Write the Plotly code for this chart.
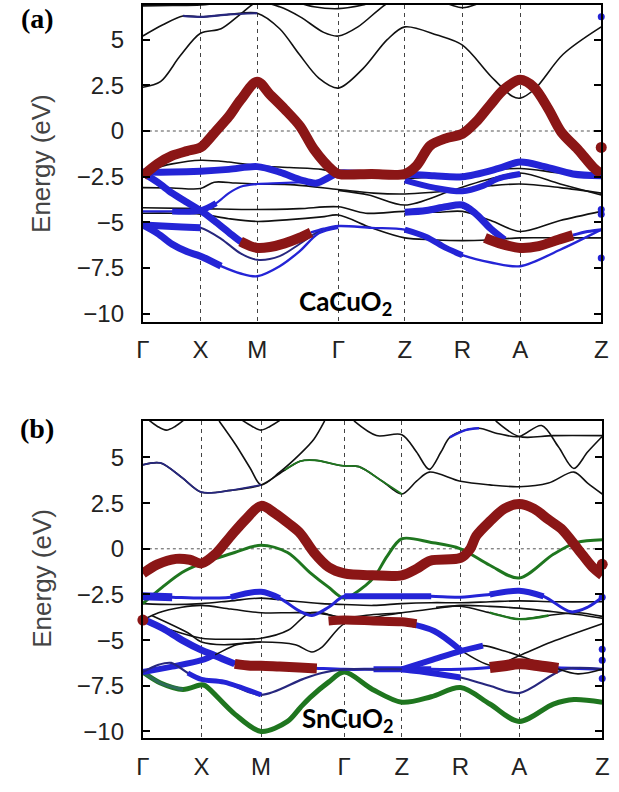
import plotly.graph_objects as go

# ---------------- high-symmetry path ----------------
SYM_LABELS = ["Γ", "X", "M", "Γ", "Z", "R", "A", "Z"]
A_SYM_K = [0, 59, 117, 200, 268, 327, 386, 469]
B_SYM_K = [0, 60, 121, 206, 265, 325, 385, 470]
Y_TICKS = [-10, -7.5, -5, -2.5, 0, 2.5, 5]

# ---------------- panel (a) CaCuO2 : plain bands ----------------
a_top_k = [0, 30, 59, 90, 117, 150, 175, 200, 225, 250, 268, 300, 327, 350, 386, 430, 469]
a_top_e = [6.85, 6.87, 6.9, 7.1, 7.4, 7.15, 6.8, 6.7, 6.9, 7.3, 7.6, 7.2, 6.75, 7.1, 7.6, 7.6, 7.6]
a_up2_k = [0, 20, 41, 59, 88, 117, 140, 160, 180, 200, 225, 250, 268, 301, 327, 356, 378, 386, 401, 430, 469]
a_up2_e = [5.2, 5.8, 6.3, 6.25, 6.38, 6.45, 5.6, 4.2, 2.9, 2.35, 3.4, 5.0, 5.7, 5.25, 4.7, 3.0, 1.9, 1.8, 2.3, 4.2, 5.7]
a_up3_k = [0, 18, 38, 59, 80, 100, 117, 140, 161, 185, 200, 220, 245, 268]
a_up3_e = [2.4, 2.7, 4.1, 5.35, 5.6, 6.4, 7.05, 6.8, 6.25, 5.4, 5.2, 5.7, 6.8, 7.6]
a_k1_k = [0, 30, 59, 88, 117, 150, 183, 200, 234, 268, 297, 327, 356, 386, 427, 469]
a_k1_e = [-2.2, -1.8, -1.6, -1.7, -1.9, -2.0, -2.1, -2.3, -2.45, -2.6, -2.5, -2.4, -2.15, -2.05, -2.3, -2.5]
a_k2_k = [0, 30, 59, 73, 95, 117, 155, 200, 236, 268, 297, 327, 356, 386, 427, 469]
a_k2_e = [-3.1, -3.12, -3.15, -2.8, -2.85, -2.9, -2.95, -3.2, -3.4, -3.45, -3.35, -3.2, -3.0, -2.9, -3.1, -3.4]
a_k3_k = [0, 59, 117, 160, 200, 228, 268, 300, 327, 356, 386, 427, 469]
a_k3_e = [-4.2, -4.25, -4.3, -4.25, -4.15, -4.5, -4.4, -4.45, -4.4, -4.9, -5.5, -4.9, -4.4]
a_k4_k = [0, 30, 59, 88, 117, 150, 183, 200, 234, 268, 297, 327, 356, 386, 427, 469]
a_k4_e = [-4.5, -4.5, -4.55, -4.8, -4.95, -4.85, -4.7, -4.6, -5.3, -5.85, -5.95, -6.0, -5.95, -5.85, -5.85, -5.85]
a_k6_k = [200, 231, 268, 314, 350, 386, 427, 469]
a_k6_e = [-3.25, -3.5, -4.05, -3.3, -2.7, -2.3, -2.9, -3.5]

# ---------------- panel (a) projected (fat) bands ----------------
a_red_k = [0, 15, 30, 45, 59, 66, 74, 88, 100, 117, 130, 145, 161, 175, 194, 200, 234, 268, 280, 294,
           310, 327, 341, 355, 370, 386, 400, 415, 428, 445, 461, 469]
a_red_e = [-2.45, -1.8, -1.35, -1.1, -0.9, -0.55, -0.05, 0.8, 1.7, 2.7, 2.0, 1.2, 0.25, -1.0, -2.15, -2.35,
           -2.35, -2.35, -1.9, -0.8, -0.4, -0.15, 0.5, 1.4, 2.3, 2.8, 2.4, 1.2, -0.05, -1.0, -2.0, -2.35]
a_red2_k = [100, 110, 117, 130, 145, 160, 172]
a_red2_e = [-6.05, -6.3, -6.4, -6.35, -6.15, -5.85, -5.55]
a_red3_k = [350, 365, 386, 405, 425, 440]
a_red3_e = [-5.85, -6.15, -6.4, -6.3, -5.95, -5.7]
a_bl1_k = [0, 30, 59, 88, 117, 140, 163, 178, 190, 200, 231, 268, 298, 327, 364, 386, 411, 440, 469]
a_bl1_e = [-2.25, -2.25, -2.2, -2.1, -1.95, -2.25, -2.7, -2.85, -2.55, -2.3, -2.35, -2.35, -2.45, -2.5,
           -2.05, -1.7, -1.95, -2.35, -2.45]
a_bl2_k = [0, 15, 30, 45, 59, 75, 88, 100, 110]
a_bl2_e = [-2.3, -2.8, -3.4, -3.9, -4.35, -5.0, -5.55, -6.05, -6.3]
a_bl3_k = [0, 30, 59, 75, 88, 100, 117, 140, 165]
a_bl3_e = [-4.4, -4.4, -4.35, -3.95, -3.4, -3.05, -2.9, -2.85, -2.8]
a_bl4_k = [0, 20, 40, 59, 80, 100, 117, 140, 160, 180, 200]
a_bl4_e = [-5.15, -5.2, -5.25, -5.3, -5.9, -6.7, -7.05, -6.85, -6.2, -5.5, -5.2]
a_bl5_k = [0, 15, 30, 45, 59, 80, 100, 117, 140, 160, 180, 200]
a_bl5_e = [-5.15, -5.6, -6.2, -6.6, -6.85, -7.4, -7.8, -7.95, -7.4, -6.6, -5.6, -5.3]
a_bl6_k = [172, 185, 200, 234, 268, 290, 310, 327, 356, 386, 427, 469]
a_bl6_e = [-5.55, -5.35, -5.2, -5.3, -5.4, -5.8, -6.4, -6.8, -7.2, -7.4, -6.5, -5.4]
a_bl7_k = [268, 290, 310, 327, 340, 356, 370]
a_bl7_e = [-4.45, -4.35, -4.15, -4.05, -4.5, -5.35, -5.95]
a_bl8_k = [440, 455, 469]
a_bl8_e = [-5.7, -5.5, -5.4]
a_bl9_k = [268, 298, 327, 348, 364, 386]
a_bl9_e = [-2.7, -3.1, -3.3, -3.0, -2.6, -2.35]
a_dot_red = ([469], [-0.9])
a_dot_blue = ([469, 469, 469, 469], [-4.3, -4.55, -6.95, 6.25])

# ---------------- panel (b) SnCuO2 : plain bands ----------------
b_u1_k = [0, 18, 40, 60, 90, 121, 145, 161, 176, 204, 221, 245, 265, 280, 293, 325, 355, 385, 415, 441, 455, 470]
b_u1_e = [4.6, 4.7, 3.9, 3.1, 3.2, 3.5, 4.3, 4.8, 4.85, 4.55, 4.5, 3.7, 3.0, 3.7, 4.2, 3.7, 3.5, 3.4, 3.6, 4.2, 3.6, 3.0]
b_u2_k = [78, 95, 110, 121, 140, 161, 175, 186]
b_u2_e = [7.0, 5.7, 4.4, 3.5, 4.2, 5.2, 6.0, 7.0]
b_u3_k = [5, 15, 24, 33, 43]
b_u3_e = [7.1, 6.7, 6.5, 6.7, 7.1]
b_u4_k = [100, 112, 121, 130, 142]
b_u4_e = [7.1, 6.7, 6.5, 6.7, 7.1]
b_u5_k = [216, 239, 265, 280, 293, 305, 314, 330, 344, 364, 385, 408, 425, 441, 455, 470]
b_u5_e = [7.0, 6.2, 6.25, 5.3, 4.35, 5.3, 6.1, 6.5, 6.6, 6.3, 6.15, 6.75, 5.6, 4.4, 5.3, 6.15]
b_u6_k = [361, 385, 420, 470]
b_u6_e = [7.0, 6.15, 6.2, 6.2]
b_k1_k = [0, 30, 60, 90, 121, 150, 183, 206, 236, 265, 295, 325, 355, 385, 420, 470]
b_k1_e = [-3.0, -3.05, -3.0, -2.85, -2.7, -2.85, -3.0, -3.05, -3.1, -3.0, -2.95, -2.95, -2.9, -2.85, -2.9, -2.9]
b_k2_k = [0, 16, 40, 60, 90, 121, 150, 173, 183, 206, 236, 265, 295, 325, 355, 385, 420, 445, 470]
b_k2_e = [-3.9, -3.5, -3.2, -3.1, -3.3, -3.5, -3.5, -3.5, -3.55, -3.75, -3.6, -3.5, -3.3, -3.1, -3.15, -3.25,
          -3.45, -3.6, -3.8]
b_k3_k = [0, 29, 60, 90, 121, 149, 169, 183, 206, 236, 265]
b_k3_e = [-3.9, -4.45, -4.9, -4.95, -4.9, -4.45, -3.55, -3.5, -3.85, -4.0, -4.0]
b_k5_k = [9, 46, 60, 83, 121, 156, 173, 183, 206, 236, 265]
b_k5_e = [-3.65, -4.6, -5.1, -5.25, -5.1, -5.25, -5.65, -5.4, -4.1, -3.75, -3.5]
b_k6_k = [300, 325, 355, 385, 415, 445, 470]
b_k6_e = [-3.2, -3.15, -3.5, -3.85, -3.65, -3.5, -3.7]
b_k7_k = [265, 298, 325, 358, 385, 418, 470]
b_k7_e = [-4.0, -4.5, -5.55, -6.4, -5.85, -5.1, -4.1]

# ---------------- panel (b) projected (fat) bands ----------------
b_red_k = [0, 15, 34, 48, 60, 74, 90, 105, 121, 135, 150, 161, 175, 190, 206, 235, 265, 280, 294, 325,
           335, 341, 355, 370, 385, 400, 415, 428, 445, 460, 470]
b_red_e = [-1.35, -0.85, -0.55, -0.6, -0.8, -0.3, 0.7, 1.6, 2.35, 1.95, 1.35, 0.85, -0.2, -1.0, -1.35,
           -1.45, -1.45, -1.1, -0.65, -0.5, 0.0, 0.7, 1.5, 2.2, 2.45, 2.2, 1.6, 1.1, 0.0, -1.0, -1.45]
b_red2_k = [94, 110, 121, 140, 160, 178]
b_red2_e = [-6.3, -6.4, -6.4, -6.45, -6.5, -6.55]
b_red3_k = [190, 206, 236, 265, 280]
b_red3_e = [-3.95, -3.9, -3.95, -4.0, -4.1]
b_red4_k = [355, 370, 385, 405, 425]
b_red4_e = [-6.5, -6.4, -6.3, -6.4, -6.55]
b_g1_k = [0, 20, 40, 60, 94, 121, 148, 171, 190, 206, 228, 238, 250, 265, 295, 325, 355, 385, 420, 444, 470]
b_g1_e = [-3.0, -2.1, -1.3, -0.8, -0.2, 0.2, -0.2, -1.3, -2.1, -2.7, -2.0, -1.45, -0.4, 0.55, 0.35, 0.0,
          -0.9, -1.6, -0.3, 0.35, 0.5]
b_g2_k = [0, 18, 41, 60, 64, 94, 121, 148, 161, 171, 190, 206, 235, 265, 295, 325, 355, 385, 420, 441, 470]
b_g2_e = [-6.75, -7.35, -7.7, -7.45, -7.5, -9.05, -10.0, -9.45, -8.7, -8.15, -7.3, -6.75, -7.7, -8.4,
          -8.1, -7.6, -8.5, -9.45, -8.5, -8.25, -8.4]
b_bl1_k = [0, 30, 60, 90, 121, 140, 160, 173, 190, 206, 236, 265, 295, 325, 355, 385, 410, 438, 455, 470]
b_bl1_e = [-2.6, -2.65, -2.7, -2.65, -2.35, -2.7, -3.4, -3.65, -3.2, -2.6, -2.6, -2.6, -2.6, -2.65, -2.5,
           -2.3, -2.6, -3.45, -3.2, -2.65]
b_bl2_k = [0, 20, 40, 60, 74, 94, 110, 121, 140, 160, 180, 206, 236, 265, 295, 325, 355, 385, 420, 470]
b_bl2_e = [-3.85, -4.35, -5.0, -5.55, -5.85, -6.3, -6.4, -6.4, -6.45, -6.5, -6.55, -6.6, -6.6, -6.6, -6.6,
           -6.6, -6.5, -6.35, -6.5, -6.6]
b_bl3_k = [0, 30, 60, 74, 96, 121]
b_bl3_e = [-6.75, -6.45, -6.1, -5.8, -5.25, -5.1]
b_bl4_k = [0, 16, 29, 46, 60, 83, 121, 163, 183, 206, 236, 265, 295, 325, 355, 385, 431, 470]
b_bl4_e = [-6.75, -6.35, -6.25, -6.8, -7.15, -7.3, -8.0, -7.15, -6.8, -6.6, -6.6, -6.6, -6.8, -7.05, -7.5,
           -7.9, -6.6, -6.6]
b_bl5_k = [265, 295, 325, 348, 370, 385, 418, 445, 470]
b_bl5_e = [-6.6, -6.1, -5.6, -5.3, -5.6, -5.85, -6.45, -6.85, -6.6]
b_dot_red = ([470, 0], [-0.85, -3.9])
b_dot_blue = ([470, 470, 470, 470], [-5.5, -6.1, -7.1, -2.65])

# ---------------- styling ----------------
BLACK = "#111111"
RED = "#8b1616"
BLUE = "#2424d6"
NAVY = "#27277e"
GREEN = "#1f761f"

fig = go.Figure()


def line(ax, k, e, color, width):
    xa, ya = ("x", "y") if ax == "a" else ("x2", "y2")
    fig.add_trace(go.Scatter(
        x=k, y=e, mode="lines", xaxis=xa, yaxis=ya, showlegend=False, hoverinfo="skip",
        line=dict(color=color, width=width, shape="spline", smoothing=0.9)))


def part(ax, k, e, i, j, color, width):
    line(ax, k[i:j + 1], e[i:j + 1], color, width)


def dots(ax, pts, color, size):
    xa, ya = ("x", "y") if ax == "a" else ("x2", "y2")
    fig.add_trace(go.Scatter(x=pts[0], y=pts[1], mode="markers", xaxis=xa, yaxis=ya,
                             showlegend=False, hoverinfo="skip",
                             marker=dict(color=color, size=size, line=dict(width=0)),
                             cliponaxis=False))


# ----- panel (a) -----
for k, e in [(a_top_k, a_top_e), (a_up2_k, a_up2_e), (a_up3_k, a_up3_e), (a_k1_k, a_k1_e),
             (a_k2_k, a_k2_e), (a_k3_k, a_k3_e), (a_k4_k, a_k4_e), (a_k6_k, a_k6_e)]:
    line("a", k, e, BLACK, 1.6)
part("a", a_up2_k, a_up2_e, 2, 5, NAVY, 2.2)
line("a", a_bl3_k, a_bl3_e, BLUE, 2.2)
part("a", a_bl3_k, a_bl3_e, 1, 3, BLUE, 6)
line("a", a_bl4_k, a_bl4_e, NAVY, 2)
part("a", a_bl4_k, a_bl4_e, 0, 3, BLUE, 7)
line("a", a_bl5_k, a_bl5_e, BLUE, 2.4)
part("a", a_bl5_k, a_bl5_e, 0, 5, BLUE, 7)
line("a", a_bl6_k, a_bl6_e, BLUE, 2.4)
part("a", a_bl6_k, a_bl6_e, 4, 7, BLUE, 6)
line("a", a_bl7_k, a_bl7_e, BLUE, 7)
line("a", a_bl8_k, a_bl8_e, BLUE, 3)
line("a", a_bl9_k, a_bl9_e, BLUE, 6)
line("a", a_bl1_k, a_bl1_e, BLUE, 7)
line("a", a_bl2_k, a_bl2_e, BLUE, 7)
line("a", a_red2_k, a_red2_e, RED, 10)
line("a", a_red3_k, a_red3_e, RED, 10)
line("a", a_red_k, a_red_e, RED, 10)
dots("a", a_dot_red, RED, 11)
dots("a", a_dot_blue, BLUE, 7)

# ----- panel (b) -----
for k, e in [(b_u1_k, b_u1_e), (b_u2_k, b_u2_e), (b_u3_k, b_u3_e), (b_u4_k, b_u4_e), (b_u5_k, b_u5_e),
             (b_u6_k, b_u6_e), (b_k1_k, b_k1_e), (b_k2_k, b_k2_e), (b_k3_k, b_k3_e), (b_k5_k, b_k5_e),
             (b_k6_k, b_k6_e), (b_k7_k, b_k7_e)]:
    line("b", k, e, BLACK, 1.6)
part("b", b_u1_k, b_u1_e, 0, 5, NAVY, 1.8)
part("b", b_u1_k, b_u1_e, 6, 12, GREEN, 1.8)
part("b", b_u5_k, b_u5_e, 6, 8, BLUE, 2.4)
part("b", b_k6_k, b_k6_e, 2, 4, GREEN, 2.4)
part("b", b_k7_k, b_k7_e, 0, 2, BLUE, 6)
line("b", b_g1_k, b_g1_e, GREEN, 3)
line("b", b_g2_k, b_g2_e, GREEN, 5)
part("b", b_g2_k, b_g2_e, 0, 2, "#2d6b5a", 3)
line("b", b_bl1_k, b_bl1_e, BLUE, 3)
part("b", b_bl1_k, b_bl1_e, 0, 1, BLUE, 8)
part("b", b_bl1_k, b_bl1_e, 3, 5, BLUE, 6)
part("b", b_bl1_k, b_bl1_e, 9, 12, BLUE, 6)
part("b", b_bl1_k, b_bl1_e, 14, 16, BLUE, 6)
line("b", b_bl2_k, b_bl2_e, BLUE, 3)
part("b", b_bl2_k, b_bl2_e, 0, 5, BLUE, 7)
part("b", b_bl2_k, b_bl2_e, 12, 14, BLUE, 6)
line("b", b_bl3_k, b_bl3_e, BLACK, 1.6)
part("b", b_bl3_k, b_bl3_e, 0, 3, BLUE, 6)
line("b", b_bl4_k, b_bl4_e, NAVY, 2.2)
part("b", b_bl4_k, b_bl4_e, 3, 6, BLUE, 5)
part("b", b_bl4_k, b_bl4_e, 11, 13, BLUE, 6)
line("b", b_bl5_k, b_bl5_e, BLACK, 1.6)
part("b", b_bl5_k, b_bl5_e, 0, 3, BLUE, 6)
line("b", b_red2_k, b_red2_e, RED, 10)
line("b", b_red3_k, b_red3_e, RED, 9)
line("b", b_red4_k, b_red4_e, RED, 11)
line("b", b_red_k, b_red_e, RED, 10)
dots("b", b_dot_red, RED, 11)
dots("b", b_dot_blue, BLUE, 7)

# ---------------- axes ----------------
W, H = 619, 792
tick_font = dict(family="Liberation Sans, Arial, sans-serif", size=24, color="#222222")


def xaxis(domain, sym):
    return dict(domain=domain, range=[sym[0], sym[-1]], tickvals=sym, ticktext=SYM_LABELS, ticks="",
                showgrid=True, gridcolor="#444444", griddash="4px,4px", gridwidth=1,
                showline=True, linecolor="black", linewidth=2, mirror=True, zeroline=False,
                tickfont=tick_font, ticklabelstandoff=6, ticklabeloverflow="allow", fixedrange=True)


def yaxis(domain, rng, anchor):
    return dict(domain=domain, range=rng, tickvals=Y_TICKS, ticks="inside", ticklen=7, tickwidth=1.5,
                tickcolor="black", showgrid=False, zeroline=False, showline=True, linecolor="black",
                linewidth=2, mirror="ticks", tickfont=tick_font, ticklabelstandoff=12,
                ticklabeloverflow="allow", anchor=anchor, fixedrange=True)


xdom_a = [139 / W, 608 / W]
xdom_b = [139 / W, 609 / W]
fig.update_layout(
    width=W, height=H, margin=dict(l=0, r=0, t=0, b=0),
    paper_bgcolor="white", plot_bgcolor="white",
    xaxis=dict(**xaxis(xdom_a, A_SYM_K), anchor="y"),
    yaxis=yaxis([1 - 324 / H, 1 - 5 / H], [-10.43, 6.9], "x"),
    xaxis2=dict(**xaxis(xdom_b, B_SYM_K), anchor="y2"),
    yaxis2=yaxis([1 - 744 / H, 1 - 424 / H], [-10.38, 7.01], "x2"),
)

for xr, yr in [("x", "y"), ("x2", "y2")]:
    fig.add_shape(type="line", xref=f"{xr} domain", yref=yr, x0=0, x1=1, y0=0, y1=0,
                  line=dict(color="#555555", width=1, dash="dot"), layer="below")

ann = []
for lbl, py in [("(a)", 19), ("(b)", 432)]:
    ann.append(dict(text=f"<b>{lbl}</b>", x=31 / W, y=1 - py / H, xref="paper", yref="paper",
                    xanchor="center", yanchor="middle", showarrow=False,
                    font=dict(family="Liberation Serif, Times New Roman, serif", size=28, color="black")))
for py in [165, 583]:
    ann.append(dict(text="Energy (eV)", x=35 / W, y=1 - py / H, xref="paper", yref="paper",
                    xanchor="center", yanchor="middle", showarrow=False, textangle=-90,
                    font=dict(family="Liberation Sans, Arial, sans-serif", size=26, color="#444444")))
for txt, px, py in [("CaCuO<sub>2</sub>", 297, 305), ("SnCuO<sub>2</sub>", 300, 725)]:
    ann.append(dict(text=f"<b>{txt}</b>", x=px / W, y=1 - py / H, xref="paper", yref="paper",
                    xanchor="left", yanchor="middle", showarrow=False,
                    font=dict(family="Lato, Open Sans, sans-serif", size=26, color="black")))
fig.update_layout(annotations=ann)

post = ("document.body.style.margin='0px';"
        "document.querySelectorAll('text').forEach(function(t){"
        "if(!t.textContent.trim()){t.parentNode.removeChild(t);}});")
fig.write_html("out.html", config={"displayModeBar": False}, post_script=post)
